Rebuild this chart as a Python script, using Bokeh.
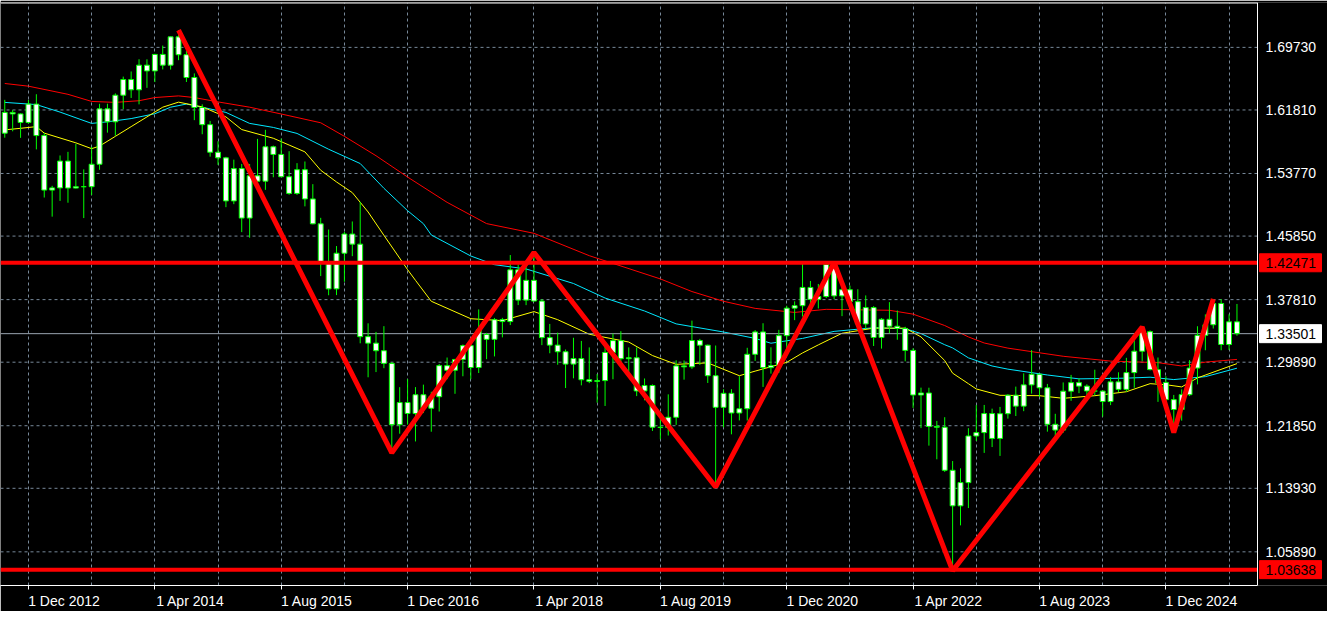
from bokeh.plotting import figure
from bokeh.models import ColumnDataSource, Range1d, FixedTicker, Span
from bokeh.core.properties import value
from bokeh.embed import file_html
from bokeh.resources import INLINE

# GBPUSD monthly candles, Sep 2012 .. Sep 2025 (index 0 = Sep 2012)
opens = [1.5887, 1.6150, 1.6131, 1.6023,
         1.6255, 1.5857, 1.5167, 1.5195, 1.5534, 1.5193, 1.5210, 1.5210, 1.5494, 1.6195, 1.6031, 1.6368,
         1.6566, 1.6436, 1.6748, 1.6675, 1.6884, 1.6748, 1.7106, 1.6880, 1.6592, 1.6212, 1.5995, 1.5646,
         1.5575, 1.5030, 1.5439, 1.4813, 1.5348, 1.5280, 1.5715, 1.5618, 1.5336, 1.5125, 1.5425, 1.5055,
         1.4740, 1.4245, 1.3917, 1.4368, 1.4611, 1.4483, 1.3312, 1.3230, 1.3134, 1.2974, 1.2198, 1.2478,
         1.2340, 1.2577, 1.2406, 1.2552, 1.2945, 1.2887, 1.3024, 1.3198, 1.2922, 1.3340, 1.3278, 1.3527,
         1.3503, 1.4158, 1.3775, 1.4025, 1.3763, 1.3300, 1.3205, 1.3121, 1.2965, 1.3035, 1.2767, 1.2746,
         1.2756, 1.3112, 1.3262, 1.3033, 1.3045, 1.2625, 1.2694, 1.2166, 1.2162, 1.2292, 1.2942, 1.2930,
         1.3263, 1.3204, 1.2818, 1.2418, 1.2595, 1.2346, 1.2400, 1.3089, 1.3372, 1.2920, 1.2945, 1.3325,
         1.3673, 1.3704, 1.3935, 1.3784, 1.3820, 1.4225, 1.3828, 1.3906, 1.3755, 1.3473, 1.3680, 1.3302,
         1.3532, 1.3444, 1.3416, 1.3138, 1.2574, 1.2599, 1.2176, 1.2166, 1.1621, 1.1171, 1.1465, 1.2055,
         1.2098, 1.2339, 1.2024, 1.2337, 1.2571, 1.2433, 1.2702, 1.2836, 1.2665, 1.2203, 1.2130, 1.2622,
         1.2730, 1.2686, 1.2625, 1.2623, 1.2491, 1.2740, 1.2645, 1.2857, 1.3128, 1.3375, 1.2895, 1.2733,
         1.2515, 1.2390, 1.2578, 1.2915, 1.3329, 1.3463, 1.3732, 1.3213, 1.3500]
highs = [1.6309, 1.6180, 1.6139, 1.6308,
         1.6380, 1.5891, 1.5221, 1.5605, 1.5651, 1.5752, 1.5429, 1.5716, 1.6259, 1.6260, 1.6391, 1.6603,
         1.6668, 1.6823, 1.6822, 1.6891, 1.6996, 1.7112, 1.7191, 1.6930, 1.6644, 1.6252, 1.6042, 1.5785,
         1.5588, 1.5552, 1.5498, 1.5497, 1.5815, 1.5930, 1.5730, 1.5819, 1.5659, 1.5508, 1.5529, 1.5242,
         1.4816, 1.4668, 1.4459, 1.4638, 1.4770, 1.5018, 1.3481, 1.3372, 1.3445, 1.2990, 1.2673, 1.2775,
         1.2674, 1.2705, 1.2615, 1.2966, 1.3048, 1.3029, 1.3213, 1.3268, 1.3657, 1.3360, 1.3549, 1.3550,
         1.4345, 1.4225, 1.4245, 1.4377, 1.3789, 1.3473, 1.3363, 1.3150, 1.3298, 1.3258, 1.3176, 1.2839,
         1.3215, 1.3351, 1.3381, 1.3176, 1.3176, 1.2783, 1.2708, 1.2310, 1.2582, 1.3013, 1.3011, 1.3515,
         1.3284, 1.3212, 1.3200, 1.2647, 1.2648, 1.2813, 1.3171, 1.3395, 1.3482, 1.3177, 1.3398, 1.3704,
         1.3759, 1.4237, 1.4017, 1.3979, 1.4250, 1.4250, 1.3984, 1.3958, 1.3912, 1.3834, 1.3698, 1.3548,
         1.3749, 1.3643, 1.3437, 1.3166, 1.2667, 1.2666, 1.2246, 1.2293, 1.1738, 1.1646, 1.2154, 1.2446,
         1.2448, 1.2401, 1.2423, 1.2584, 1.2680, 1.2848, 1.3142, 1.2841, 1.2714, 1.2336, 1.2733, 1.2828,
         1.2785, 1.2709, 1.2894, 1.2634, 1.2801, 1.2861, 1.3044, 1.3266, 1.3434, 1.3391, 1.3048, 1.2811,
         1.2575, 1.2645, 1.3015, 1.3444, 1.3594, 1.3789, 1.3788, 1.3595, 1.3726]
lows = [1.5830, 1.5911, 1.5828, 1.6006,
        1.5682, 1.5073, 1.4831, 1.5030, 1.5007, 1.5187, 1.4813, 1.5104, 1.5424, 1.5894, 1.5854, 1.6190,
        1.6333, 1.6252, 1.6461, 1.6534, 1.6694, 1.6692, 1.6811, 1.6535, 1.6052, 1.5874, 1.5590, 1.5486,
        1.4951, 1.4989, 1.4635, 1.4564, 1.5172, 1.5170, 1.5329, 1.5330, 1.5108, 1.5106, 1.4961, 1.4735,
        1.4079, 1.3836, 1.3838, 1.4007, 1.4331, 1.3228, 1.2798, 1.2864, 1.2913, 1.1841, 1.2084, 1.2199,
        1.1986, 1.2345, 1.2109, 1.2365, 1.2774, 1.2589, 1.2811, 1.2774, 1.2852, 1.3027, 1.3062, 1.3303,
        1.3459, 1.3712, 1.3711, 1.3758, 1.3205, 1.3102, 1.2957, 1.2662, 1.2785, 1.2696, 1.2724, 1.2477,
        1.2435, 1.2773, 1.2960, 1.2866, 1.2560, 1.2506, 1.2119, 1.2015, 1.2061, 1.2195, 1.2768, 1.2904,
        1.2954, 1.2726, 1.1409, 1.2165, 1.2076, 1.2252, 1.2251, 1.3005, 1.2676, 1.2844, 1.2853, 1.3135,
        1.3521, 1.3567, 1.3669, 1.3669, 1.3800, 1.3786, 1.3572, 1.3680, 1.3412, 1.3411, 1.3194, 1.3161,
        1.3358, 1.3273, 1.3000, 1.2410, 1.2155, 1.1933, 1.1760, 1.1600, 1.0350, 1.0924, 1.1143, 1.1992,
        1.1841, 1.1915, 1.1803, 1.2275, 1.2308, 1.2369, 1.2591, 1.2548, 1.2110, 1.2037, 1.2096, 1.2500,
        1.2597, 1.2518, 1.2574, 1.2300, 1.2446, 1.2612, 1.2615, 1.2665, 1.3002, 1.2885, 1.2487, 1.2475,
        1.2100, 1.2249, 1.2560, 1.2708, 1.3140, 1.3415, 1.3140, 1.3143, 1.3324]
closes = [1.6150, 1.6131, 1.6023, 1.6255,
          1.5857, 1.5167, 1.5195, 1.5534, 1.5193, 1.5210, 1.5210, 1.5494, 1.6195, 1.6031, 1.6368, 1.6566,
          1.6436, 1.6748, 1.6675, 1.6884, 1.6748, 1.7106, 1.6880, 1.6592, 1.6212, 1.5995, 1.5646, 1.5575,
          1.5030, 1.5439, 1.4813, 1.5348, 1.5280, 1.5715, 1.5618, 1.5336, 1.5125, 1.5425, 1.5055, 1.4740,
          1.4245, 1.3917, 1.4368, 1.4611, 1.4483, 1.3312, 1.3230, 1.3134, 1.2974, 1.2198, 1.2478, 1.2340,
          1.2577, 1.2406, 1.2552, 1.2945, 1.2887, 1.3024, 1.3198, 1.2922, 1.3398, 1.3278, 1.3527, 1.3503,
          1.4158, 1.3775, 1.4025, 1.3763, 1.3300, 1.3205, 1.3121, 1.2965, 1.3035, 1.2767, 1.2746, 1.2756,
          1.3112, 1.3262, 1.3033, 1.3045, 1.2625, 1.2694, 1.2166, 1.2162, 1.2292, 1.2942, 1.2930, 1.3263,
          1.3204, 1.2818, 1.2418, 1.2595, 1.2346, 1.2400, 1.3089, 1.3372, 1.2920, 1.2945, 1.3325, 1.3673,
          1.3704, 1.3935, 1.3784, 1.3820, 1.4225, 1.3828, 1.3906, 1.3755, 1.3473, 1.3680, 1.3302, 1.3532,
          1.3444, 1.3416, 1.3138, 1.2574, 1.2599, 1.2176, 1.2166, 1.1621, 1.1171, 1.1465, 1.2055, 1.2098,
          1.2339, 1.2024, 1.2337, 1.2571, 1.2433, 1.2702, 1.2836, 1.2665, 1.2203, 1.2130, 1.2622, 1.2730,
          1.2686, 1.2625, 1.2623, 1.2491, 1.2740, 1.2645, 1.2857, 1.3128, 1.3375, 1.2895, 1.2733, 1.2515,
          1.2390, 1.2578, 1.2915, 1.3329, 1.3463, 1.3732, 1.3213, 1.3500, 1.3350]

# Moving averages (month index, price)
ma_fast_idx = [0, 2, 4, 5, 9, 11, 12, 14, 16, 18, 20, 22, 25, 28, 30, 34, 36, 38, 40, 42, 44, 46, 48, 51,
               52, 54, 59, 63, 67, 70, 74, 79, 82, 85, 89, 93, 95, 99, 101, 103, 106, 110, 114, 116, 119,
               120, 122, 123, 126, 131, 134, 138, 142, 145, 147, 149, 151, 156]
ma_fast_val = [1.5929, 1.5949, 1.5970, 1.5888, 1.5765, 1.5691, 1.5724, 1.5847, 1.5970, 1.6093, 1.6216,
               1.6280, 1.6220, 1.6093, 1.5933, 1.5823, 1.5737, 1.5651, 1.5418, 1.5270, 1.5135, 1.4890,
               1.4595, 1.4160, 1.4025, 1.3760, 1.3539, 1.3515, 1.3629, 1.3527, 1.3343, 1.3244, 1.3073,
               1.2962, 1.2980, 1.2818, 1.2876, 1.2987, 1.3106, 1.3208, 1.3355, 1.3420, 1.3420, 1.3309,
               1.3010, 1.2850, 1.2717, 1.2650, 1.2570, 1.2565, 1.2532, 1.2565, 1.2615, 1.2717, 1.2704,
               1.2676, 1.2790, 1.2971]
ma_mid_idx = [0, 4, 7, 11, 13, 16, 19, 21, 23, 25, 28, 31, 34, 37, 41, 45, 48, 51, 53, 54, 59, 62, 66, 72,
              76, 81, 85, 91, 95, 97, 101, 105, 110, 114, 116, 119, 120, 122, 125, 127, 132, 136, 142, 145,
              148, 152, 156]
ma_mid_val = [1.6277, 1.6249, 1.6154, 1.6011, 1.6031, 1.6072, 1.6133, 1.6216, 1.6256, 1.6216, 1.6150,
              1.6011, 1.5960, 1.5884, 1.5684, 1.5503, 1.5190, 1.4906, 1.4742, 1.4599, 1.4333, 1.4223,
              1.4169, 1.3985, 1.3801, 1.3637, 1.3474, 1.3371, 1.3290, 1.3229, 1.3290, 1.3379, 1.3425,
              1.3413, 1.3351, 1.3210, 1.3170, 1.3044, 1.2941, 1.2901, 1.2827, 1.2778, 1.2787, 1.2799,
              1.2769, 1.2806, 1.2913]
ma_slow_idx = [0, 3, 8, 11, 14, 17, 19, 22, 24, 27, 31, 35, 40, 43, 47, 51, 56, 61, 67, 74, 83, 87, 91, 95,
               100, 104, 112, 115, 119, 122, 124, 127, 134, 140, 146, 149, 152, 156]
ma_slow_val = [1.6516, 1.6482, 1.6379, 1.6289, 1.6277, 1.6298, 1.6338, 1.6359, 1.6338, 1.6283, 1.6216,
               1.6130, 1.6019, 1.5847, 1.5602, 1.5332, 1.5012, 1.4743, 1.4620, 1.4337, 1.4043, 1.3883,
               1.3760, 1.3670, 1.3619, 1.3658, 1.3646, 1.3597, 1.3453, 1.3309, 1.3232, 1.3167, 1.3064,
               1.3003, 1.2983, 1.2941, 1.2990, 1.3024]

# ZigZag swing points (month index, price)
zz_idx = [22, 49, 67, 90, 105, 120, 144, 148, 153]
zz_val = [1.7191, 1.1841, 1.4377, 1.1409, 1.4250, 1.0350, 1.3434, 1.2100, 1.3789]

level_high = 1.42471
level_low = 1.03638
last_price = 1.33501

y_ticks = [1.05890, 1.13930, 1.21850, 1.29890, 1.37810, 1.45850, 1.53770, 1.61810, 1.69730]
x_tick_months = [3, 19, 35, 51, 67, 83, 99, 115, 131, 147]
x_tick_labels = ["1 Dec 2012", "1 Apr 2014", "1 Aug 2015", "1 Dec 2016", "1 Apr 2018",
                 "1 Aug 2019", "1 Dec 2020", "1 Apr 2022", "1 Aug 2023", "1 Dec 2024"]
x_grid_months = [3 + 8 * j for j in range(20)]

# ---------------------------------------------------------------------------
W, H = 1327, 611
PLOT_W = 1257            # width of the chart area, the price scale takes the rest
TOP, BOTTOM = 2, 23
X0, X1 = -0.54, 158.6    # visible months in the chart area
PPM = PLOT_W / (X1 - X0)  # pixels per month
X_END = X1 + (W - PLOT_W) / PPM
Y0, Y1 = 1.0163, 1.7541
FONT = "Liberation Sans"
GRID = "#778899"

idx = list(range(len(opens)))
src = ColumnDataSource(dict(
    x=idx, high=highs, low=lows,
    top=[max(o, c) for o, c in zip(opens, closes)],
    bottom=[min(o, c) for o, c in zip(opens, closes)],
))

p = figure(width=W, height=H, output_backend="svg", toolbar_location=None,
           x_range=Range1d(X0, X_END), y_range=Range1d(Y0, Y1),
           background_fill_color="black", border_fill_color="black",
           min_border_left=0, min_border_right=0, min_border_top=TOP, min_border_bottom=BOTTOM,
           y_axis_location=None)
p.outline_line_color = None

# vertical grid
p.xgrid.ticker = FixedTicker(ticks=x_grid_months)
p.xgrid.grid_line_color = GRID
p.xgrid.grid_line_dash = "3 3"
p.ygrid.visible = False

# horizontal grid (stops at the price scale)
p.segment(x0=[X0] * len(y_ticks), x1=[X1] * len(y_ticks), y0=y_ticks, y1=y_ticks,
          line_color=GRID, line_dash="3 3", line_width=1)

# x axis: labels start at the tick, like the terminal
centers = [m + 4.5 for m in x_tick_months]
p.xaxis.ticker = FixedTicker(ticks=centers, minor_ticks=x_tick_months)
p.xaxis.major_label_overrides = {c: t for c, t in zip(centers, x_tick_labels)}
p.xaxis.bounds = (X0, X1)
p.xaxis.major_tick_out = 0
p.xaxis.major_tick_in = 0
p.xaxis.minor_tick_out = 4
p.xaxis.minor_tick_in = 0
p.xaxis.minor_tick_line_color = "white"
p.xaxis.axis_line_color = "white"
p.xaxis.major_label_text_color = "white"
p.xaxis.major_label_text_font = FONT
p.xaxis.major_label_text_font_size = "14px"
p.xaxis.major_label_standoff = 3

# moving averages
p.line(ma_slow_idx, ma_slow_val, line_color="#ff0000", line_width=1)
p.line(ma_mid_idx, ma_mid_val, line_color="#00e8ff", line_width=1)
p.line(ma_fast_idx, ma_fast_val, line_color="#ffff00", line_width=1)

# current price line
p.segment(x0=[X0], x1=[X1], y0=[last_price], y1=[last_price], line_color="#9aa4b0", line_width=1)

# candles
p.segment(x0="x", y0="low", x1="x", y1="high", source=src, line_color="#00ff00", line_width=1)
p.vbar(x="x", top="top", bottom="bottom", width=0.62, source=src,
       fill_color="white", line_color="#00ff00", line_width=1)

# level lines
p.segment(x0=[X0, X0], x1=[X1, X1], y0=[level_high, level_low], y1=[level_high, level_low],
          line_color="#ff0000", line_width=4)

# zigzag
p.line(zz_idx, zz_val, line_color="#ff0000", line_width=5)

# frame lines: top edge and the price-scale edge
p.segment(x0=[X0], x1=[X1], y0=[Y1], y1=[Y1], line_color="white", line_width=2)
p.segment(x0=[X1], x1=[X1], y0=[Y0], y1=[Y1], line_color="white", line_width=1)

# price scale labels
p.text(x=[X1] * len(y_ticks), y=y_ticks, text=[f"{v:.5f}" for v in y_ticks],
       x_offset=8, text_baseline="middle", text_align="left", text_color="white",
       text_font=value(FONT), text_font_size="14px")

# price tags
tag_vals = [level_high, level_low, last_price]
tag_fill = ["#ff0000", "#ff0000", "white"]
p.rect(x=[X1 + 33 / PPM] * 3, y=tag_vals, width=62, height=18,
       width_units="screen", height_units="screen",
       fill_color=tag_fill, line_color=tag_fill)
p.text(x=[X1] * 3, y=tag_vals, text=[f"{v:.5f}" for v in tag_vals],
       x_offset=8, text_baseline="middle", text_align="left", text_color="black",
       text_font=value(FONT), text_font_size="14px")

open("out.html", "w").write(file_html(p, INLINE))
